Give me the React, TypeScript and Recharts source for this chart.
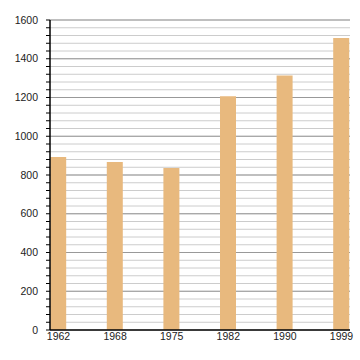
import React from 'react';
import { BarChart, Bar, XAxis, YAxis, CartesianGrid } from 'recharts';

// values
const years = ['1962', '1968', '1975', '1982', '1990', '1999'];
const values = [893, 867, 836, 1206, 1313, 1507];
const minorTicks = Array.from({ length: 41 }, (_, i) => i * 40);
const majorTicks = [200, 400, 600, 800, 1000, 1200, 1400, 1600];

const BAR_COLOR = '#E8B97E';

const data = years.map((year, i) => ({ idx: i, year, value: values[i] }));

// major grid lines, placed through the y axis scale
const majorLines = ({ yAxis, offset }: any) => {
    const scale = yAxis?.scale;
    if (typeof scale === 'function') return majorTicks.map((t) => scale(t));
    return majorTicks.map((t) => offset.top + offset.height * (1 - t / 1600));
};

export default function App() {
    return (
        <div style={{ position: 'fixed', top: 0, left: 0, width: 360, height: 360, background: '#fff' }}>
            <BarChart
                width={360}
                height={360}
                data={data}
                margin={{ top: 20, right: 10, left: 0, bottom: 0 }}
                style={{ fontFamily: '"Liberation Sans", Arial, sans-serif' }}
            >
                <CartesianGrid
                    horizontal={true}
                    vertical={false}
                    stroke="#cccccc"
                    strokeWidth={1}
                />
                <CartesianGrid
                    horizontal={true}
                    vertical={false}
                    horizontalCoordinatesGenerator={majorLines}
                    stroke="#999999"
                    strokeWidth={1}
                />
                <XAxis
                    dataKey="idx"
                    type="number"
                    domain={[-0.15, 5.15]}
                    ticks={[0, 1, 2, 3, 4, 5]}
                    tickFormatter={(i: number) => years[i]}
                    height={30}
                    axisLine={{ stroke: '#000', strokeWidth: 1.5 }}
                    tickLine={false}
                    tickSize={2}
                    tickMargin={1}
                    tick={{ fill: '#222', fontSize: 10.5 }}
                    allowDataOverflow
                />
                <YAxis
                    type="number"
                    domain={[0, 1600]}
                    ticks={minorTicks}
                    interval={0}
                    tickFormatter={(v: number) => (v % 200 === 0 ? String(v) : '')}
                    width={50}
                    axisLine={{ stroke: '#000', strokeWidth: 1.5 }}
                    tickLine={{ stroke: '#000' }}
                    tickSize={4}
                    tickMargin={8}
                    tick={{ fill: '#222', fontSize: 10.5 }}
                />
                <Bar dataKey="value" fill={BAR_COLOR} barSize={16} isAnimationActive={false} />
            </BarChart>
        </div>
    );
}
